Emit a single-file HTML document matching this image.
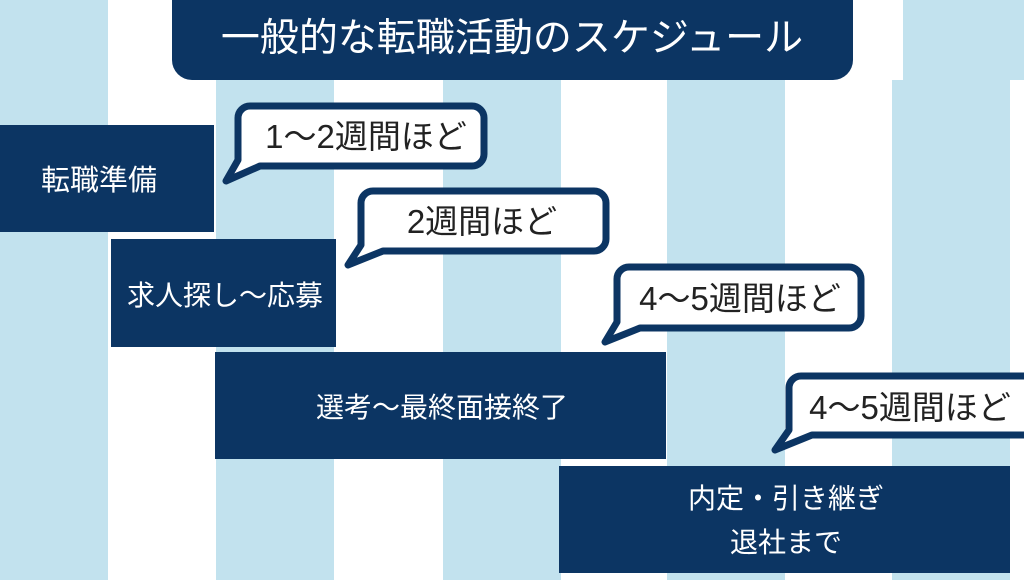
<!DOCTYPE html>
<html><head><meta charset="utf-8"><style>
html,body{margin:0;padding:0;background:#fff;}
svg{display:block;}
text{font-family:"Liberation Sans","Noto Sans CJK JP",sans-serif;}
</style></head><body>
<svg width="1024" height="580" viewBox="0 0 1024 580" xmlns="http://www.w3.org/2000/svg">
<rect width="1024" height="580" fill="#fff"/>
<g fill="#c2e2ee">
<rect x="0" y="0" width="108" height="580"/>
<rect x="216" y="80" width="118" height="500"/>
<rect x="443" y="80" width="118" height="500"/>
<rect x="667" y="80" width="118" height="500"/>
<rect x="892" y="80" width="118" height="500"/>
<rect x="903" y="0" width="121" height="80"/>
</g>
<rect x="172" y="-20" width="681" height="100" rx="20" fill="#0c3563"/>
<text x="512" y="51" font-size="39" fill="#fff" text-anchor="middle">一般的な転職活動のスケジュール</text>

<g fill="#0c3563">
<rect x="0" y="125" width="214" height="107"/>
<rect x="111" y="239" width="225" height="108"/>
<rect x="215" y="352" width="451" height="107"/>
<rect x="559" y="466" width="451" height="107"/>
</g>
<g fill="#fff" font-size="29" text-anchor="middle">
<text x="99" y="190">転職準備</text>
<text x="225" y="305" font-size="28">求人探し〜応募</text>
<text x="442" y="417" font-size="28">選考〜最終面接終了</text>
<text x="786" y="508" font-size="28">内定・引き継ぎ</text>
<text x="786" y="552" font-size="28">退社まで</text>
</g>

<g fill="#fff" stroke="#0c3563" stroke-width="7" stroke-linejoin="round">
<path d="M250,106 H472 a12,12 0 0 1 12,12 V154 a12,12 0 0 1 -12,12 H260 L226,181 L238,160 V118 a12,12 0 0 1 12,-12 Z"/>
<path d="M373,191 H594 a12,12 0 0 1 12,12 V239 a12,12 0 0 1 -12,12 H383 L348,265 L361,245 V203 a12,12 0 0 1 12,-12 Z"/>
<path d="M629,267 H849 a12,12 0 0 1 12,12 V316 a12,12 0 0 1 -12,12 H640 L605,342 L617,322 V279 a12,12 0 0 1 12,-12 Z"/>
<path d="M801,376 H1030 V435 H812 L775,450 L789,430 V388 a12,12 0 0 1 12,-12 Z"/>
</g>
<g fill="#222" font-size="33" text-anchor="middle">
<text x="366" y="148">1〜2週間ほど</text>
<text x="482" y="233">2週間ほど</text>
<text x="740" y="310">4〜5週間ほど</text>
<text x="910" y="419">4〜5週間ほど</text>
</g>
</svg>
</body></html>
